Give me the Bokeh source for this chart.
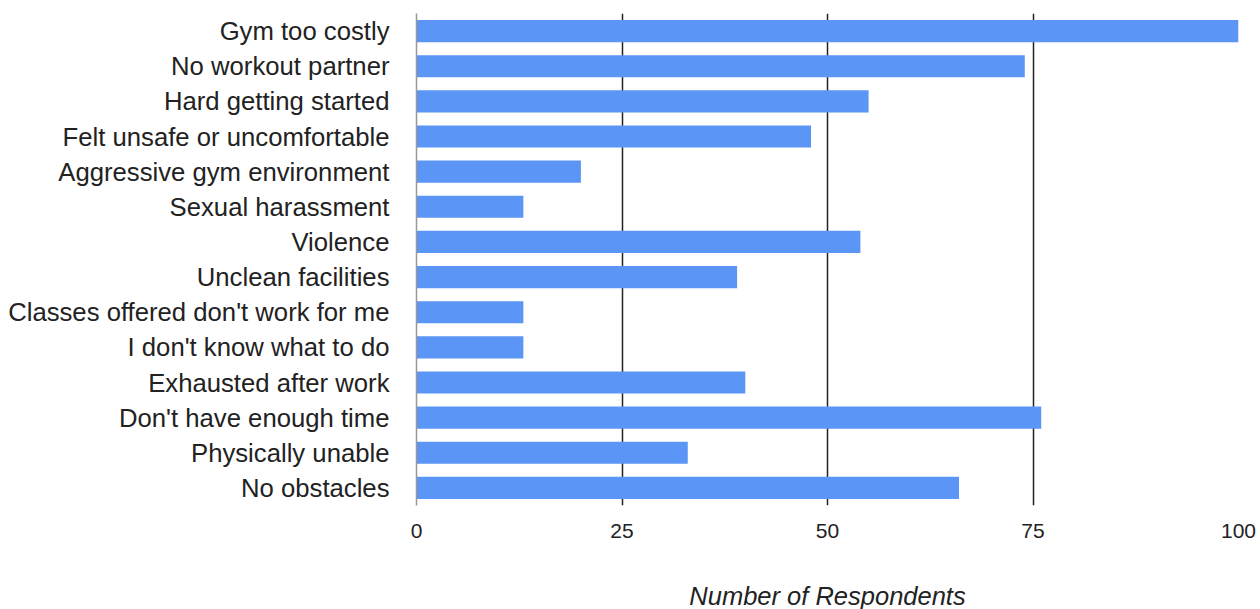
from bokeh.plotting import figure
from bokeh.models import Range1d, FactorRange, FixedTicker, ColumnDataSource, Label
from bokeh.layouts import column
from bokeh.embed import file_html
from bokeh.resources import INLINE

categories = [
    "Gym too costly",
    "No workout partner",
    "Hard getting started",
    "Felt unsafe or uncomfortable",
    "Aggressive gym environment",
    "Sexual harassment",
    "Violence",
    "Unclean facilities",
    "Classes offered don't work for me",
    "I don't know what to do",
    "Exhausted after work",
    "Don't have enough time",
    "Physically unable",
    "No obstacles",
]
respondents = [100, 74, 55, 48, 20, 13, 54, 39, 13, 13, 40, 76, 33, 66]
x_ticks = [0, 25, 50, 75, 100]
x_title = "Number of Respondents"

src = ColumnDataSource(dict(cat=categories, val=respondents))

xr = Range1d(0, 100)

p = figure(
    width=1256, height=571,
    y_range=FactorRange(*list(reversed(categories)), range_padding=0),
    x_range=xr,
    output_backend="svg", toolbar_location=None,
    min_border_left=416, min_border_right=18, min_border_top=13, min_border_bottom=66,
)
p.outline_line_color = None
p.background_fill_color = "white"

p.hbar(y="cat", right="val", left=0, height=0.63, source=src,
       fill_color="#5B95F5", line_color=None)

# x axis
p.xaxis.ticker = FixedTicker(ticks=x_ticks)
p.xaxis.axis_line_color = None
p.xaxis.major_tick_line_color = None
p.xaxis.minor_tick_line_color = None
p.xaxis.major_label_text_font = "Liberation Sans"
p.xaxis.major_label_text_font_size = "21px"
p.xaxis.major_label_text_color = "#222222"
p.xaxis.major_label_standoff = 12

# y axis
p.yaxis.axis_line_color = "#999999"
p.yaxis.axis_line_width = 1.5
p.yaxis.major_tick_line_color = None
p.yaxis.minor_tick_line_color = None
p.yaxis.major_tick_out = 0
p.yaxis.major_label_text_font = "Liberation Sans"
p.yaxis.major_label_text_font_size = "25.7px"
p.yaxis.major_label_text_color = "#222222"
p.yaxis.major_label_standoff = 27

# grids
p.ygrid.grid_line_color = None
p.xgrid.ticker = FixedTicker(ticks=[25, 50, 75, 100])
p.xgrid.grid_line_color = "#222222"
p.xgrid.grid_line_width = 1.5

# axis title strip below the chart (frame aligned with the main plot)
t = figure(
    width=1256, height=38, x_range=xr, y_range=Range1d(0, 38),
    output_backend="svg", toolbar_location=None,
    min_border_left=416, min_border_right=18, min_border_top=0, min_border_bottom=0,
)
t.axis.visible = False
t.grid.visible = False
t.outline_line_color = None
t.add_layout(Label(
    x=50, y=14, text=x_title,
    text_font="Liberation Sans", text_font_style="italic",
    text_font_size="25.5px", text_color="#222222",
    text_align="center", text_baseline="middle",
))

layout = column(p, t, spacing=0)
open("out.html", "w").write(file_html(layout, INLINE))
